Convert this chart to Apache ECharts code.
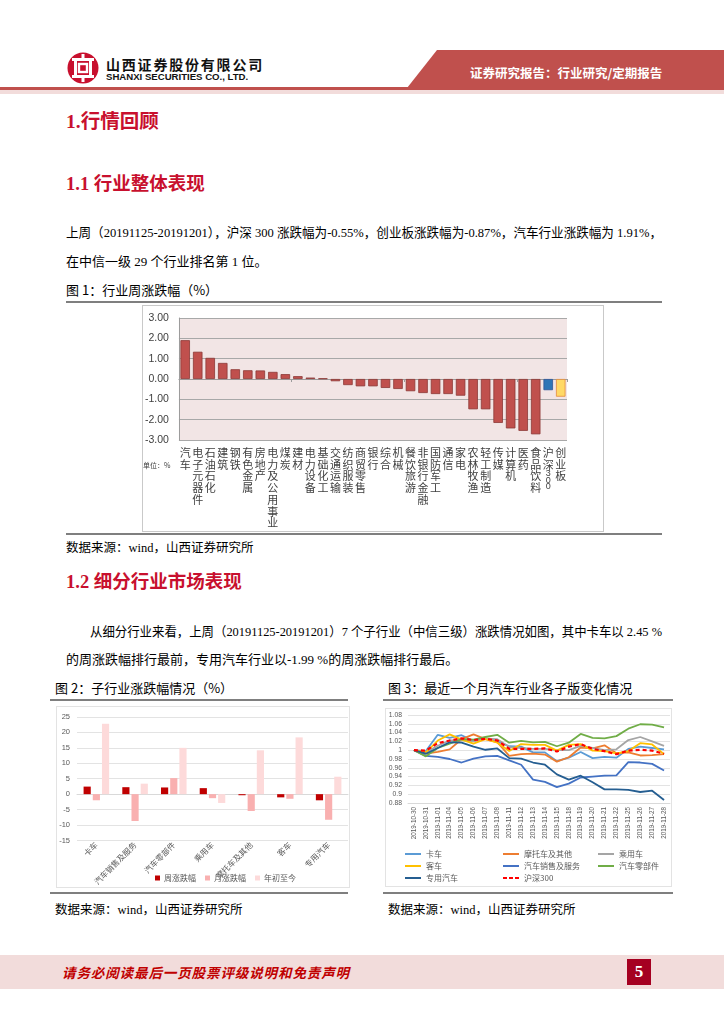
<!DOCTYPE html>
<html><head><meta charset="utf-8">
<script src="https://cdn.jsdelivr.net/npm/echarts@6/dist/echarts.min.js"></script>
<style>
html,body{margin:0;padding:0;background:#fff;}
#page{position:relative;width:724px;height:1024px;overflow:hidden;background:#fff;font-family:"Liberation Serif","Noto Sans CJK SC",serif;color:#000;}
.abs{position:absolute;white-space:nowrap;}
.h1{font-family:"Liberation Serif","Noto Sans CJK SC";font-weight:bold;color:#C8102E;}
.p{font-size:13px;line-height:20px;}
.cap{font-family:"Noto Sans CJK SC";font-size:13px;line-height:18px;}
.src{font-family:"Liberation Serif","Noto Sans CJK SC";font-size:12.5px;line-height:18px;}
.rule{position:absolute;height:2px;background:#7F7F7F;}
.frame{position:absolute;box-sizing:border-box;border:1px solid #C9C9C9;}
</style></head>
<body><div id="page">
<!-- header -->
<svg class="abs" style="left:67px;top:52px" width="32" height="32" viewBox="0 0 32 32">
 <circle cx="16" cy="16" r="15.5" fill="#C8102E"/>
 <rect x="5" y="6" width="22" height="3" fill="#fff"/>
 <rect x="5" y="23" width="22" height="3" fill="#fff"/>
 <rect x="7" y="9" width="3" height="14" fill="#fff"/>
 <rect x="22" y="9" width="3" height="14" fill="#fff"/>
 <rect x="12" y="12" width="8" height="8" fill="none" stroke="#fff" stroke-width="2.4"/>
 <rect x="14.5" y="2" width="3" height="4" fill="#fff"/>
 <rect x="14.5" y="26" width="3" height="4" fill="#fff"/>
</svg>
<div class="abs" style="left:106px;top:55px;font-family:'Noto Sans CJK SC';font-weight:bold;font-size:14px;line-height:18px;letter-spacing:1.8px;color:#111;">山西证券股份有限公司</div>
<div class="abs" style="left:106px;top:71px;font-family:'Liberation Sans';font-weight:bold;font-size:9.6px;line-height:12px;color:#111;">SHANXI SECURITIES CO., LTD.</div>
<div class="abs" style="left:0;top:50px;width:724px;height:38px;background:#C0504D;clip-path:polygon(437px 0,724px 0,724px 38px,407px 38px);"></div>
<div class="abs" style="left:0;top:87px;width:724px;height:3px;background:#C0504D;"></div>
<div class="abs" style="left:0;top:90px;width:724px;height:4px;background:#F2DCDB;"></div>
<div class="abs" style="left:470px;top:64px;font-family:'Noto Sans CJK SC';font-weight:bold;font-size:12.5px;line-height:18px;color:#fff;">证券研究报告：行业研究/定期报告</div>

<div class="abs h1" style="left:66px;top:109px;font-size:19.5px;line-height:26px;">1.行情回顾</div>
<div class="abs h1" style="left:66px;top:171px;font-size:18.5px;line-height:26px;">1.1 行业整体表现</div>
<div class="abs p" data-w="596" style="left:66px;top:223px;">上周（20191125-20191201），沪深 300 涨跌幅为-0.55%，创业板涨跌幅为-0.87%，汽车行业涨跌幅为 1.91%，</div>
<div class="abs p" style="left:66px;top:252px;">在中信一级 29 个行业排名第 1 位。</div>
<div class="abs cap" style="left:66px;top:281px;">图 1：行业周涨跌幅（%）</div>
<div class="rule" style="left:66px;top:301px;width:596px;"></div>
<div class="frame" style="left:142px;top:305px;width:462px;height:227px;"></div>
<div id="c1" class="abs" style="left:142px;top:305px;width:462px;height:227px;"></div>
<div class="rule" style="left:66px;top:533px;width:596px;"></div>
<div class="abs src" style="left:66px;top:539px;">数据来源：wind，山西证券研究所</div>

<div class="abs h1" style="left:66px;top:569px;font-size:18.5px;line-height:26px;">1.2 细分行业市场表现</div>
<div class="abs p" data-w="572" style="left:90px;top:622px;">从细分行业来看，上周（20191125-20191201）7 个子行业（中信三级）涨跌情况如图，其中卡车以 2.45 %</div>
<div class="abs p" style="left:66px;top:650px;">的周涨跌幅排行最前，专用汽车行业以-1.99 %的周涨跌幅排行最后。</div>

<div class="abs cap" style="left:55px;top:679px;">图 2：子行业涨跌幅情况（%）</div>
<div class="abs cap" style="left:388px;top:679px;">图 3：最近一个月汽车行业各子版变化情况</div>
<div class="rule" style="left:50px;top:699px;width:298px;"></div>
<div class="rule" style="left:383px;top:699px;width:290px;"></div>
<div class="frame" style="left:56px;top:706px;width:294px;height:182px;border-color:#E3E3E3;"></div>
<div id="c2" class="abs" style="left:56px;top:706px;width:294px;height:182px;"></div>
<div class="frame" style="left:385px;top:708px;width:287px;height:179px;border-color:#E3E3E3;"></div>
<div id="c3" class="abs" style="left:385px;top:708px;width:287px;height:179px;"></div>
<div class="rule" style="left:50px;top:892px;width:298px;"></div>
<div class="rule" style="left:383px;top:892px;width:290px;"></div>
<div class="abs src" style="left:55px;top:901px;">数据来源：wind，山西证券研究所</div>
<div class="abs src" style="left:388px;top:901px;">数据来源：wind，山西证券研究所</div>

<!-- footer -->
<div class="abs" style="left:0;top:955px;width:724px;height:34px;background:#F2DCDB;"></div>
<div class="abs" style="left:62px;top:962px;font-family:'Noto Sans CJK SC';font-weight:bold;font-style:italic;font-size:13.5px;line-height:20px;letter-spacing:0.9px;color:#C00000;">请务必阅读最后一页股票评级说明和免责声明</div>
<div class="abs" style="left:627px;top:959px;width:24px;height:26px;background:#A50021;color:#fff;font-family:'Liberation Serif';font-weight:bold;font-size:17px;line-height:26px;text-align:center;">5</div>
</div>
<script>
// fit justified single lines to their target width
document.querySelectorAll('[data-w]').forEach(el => {
  const target = +el.dataset.w;
  const w = el.getBoundingClientRect().width;
  const n = el.textContent.length;
  if (w > target) {
    el.style.transformOrigin = '0 50%';
    el.style.transform = 'scaleX(' + (target / w) + ')';
  } else if (n > 1) {
    el.style.letterSpacing = ((target - w) / (n - 1)) + 'px';
  }
});

// ---------- Figure 1 data ----------
const industries = ['汽车','电子元器件','石油石化','建筑','钢铁','有色金属','房地产','电力及公用事业','煤炭','建材','电力设备','基础化工','交通运输','纺织服装','商贸零售','银行','综合','机械','餐饮旅游','非银行金融','国防军工','通信','家电','农林牧渔','轻工制造','传媒','计算机','医药','食品饮料','沪深300','创业板'];
const weeklyChange = [1.91,1.34,1.04,0.79,0.48,0.43,0.42,0.35,0.24,0.14,0.07,0.03,-0.11,-0.30,-0.36,-0.36,-0.44,-0.49,-0.60,-0.69,-0.74,-0.74,-0.82,-1.49,-1.49,-2.16,-2.43,-2.55,-2.72,-0.55,-0.87];
const fig1Ticks = [-3,-2,-1,0,1,2,3];

// ---------- Figure 2 data ----------
const subIndustries = ['卡车','汽车销售及服务','汽车零部件','乘用车','摩托车及其他','客车','专用汽车'];
const subWeekly = [2.45,2.26,2.17,1.95,-0.35,-1.04,-1.99];
const subMonthly = [-1.98,-8.70,5.20,-1.30,-5.45,-1.50,-8.30];
const subYtd = [22.8,3.4,15.0,-2.85,14.2,18.4,5.65];

// ---------- Figure 3 data ----------
const dates = ['2019-10-30','2019-10-31','2019-11-01','2019-11-04','2019-11-05','2019-11-06','2019-11-07','2019-11-08','2019-11-11','2019-11-12','2019-11-13','2019-11-14','2019-11-15','2019-11-18','2019-11-19','2019-11-20','2019-11-21','2019-11-22','2019-11-25','2019-11-26','2019-11-27','2019-11-28'];
const truck     = [1.000,0.998,1.035,1.028,1.034,1.021,1.027,1.020,1.009,1.008,0.995,0.995,0.975,0.983,0.996,0.982,0.985,0.983,1.003,1.008,1.005,1.002];
const moto      = [1.000,0.992,0.996,1.002,1.025,1.036,1.025,1.018,0.987,0.991,0.992,0.990,0.974,0.984,1.006,1.004,1.011,0.993,0.995,0.988,0.989,0.991];
const passenger = [1.000,0.995,1.010,1.022,1.023,1.020,1.026,1.025,1.007,1.005,1.003,1.003,1.000,1.000,1.010,1.005,1.000,1.002,1.023,1.030,1.020,1.010];
const bus       = [1.000,0.995,1.022,1.036,1.024,1.015,1.025,1.017,0.998,1.014,1.012,1.012,0.999,1.012,1.014,0.999,0.998,0.993,0.998,1.016,1.013,0.991];
const sales     = [1.000,0.987,0.985,0.980,0.972,0.981,0.986,0.987,0.977,0.967,0.933,0.928,0.916,0.924,0.938,0.940,0.942,0.943,0.973,0.972,0.969,0.954];
const parts     = [1.000,0.986,1.005,1.015,1.025,1.024,1.030,1.035,1.017,1.021,1.018,1.019,1.009,1.017,1.037,1.028,1.027,1.032,1.049,1.059,1.058,1.052];
const special   = [1.000,0.992,1.005,1.018,1.017,1.008,1.001,1.004,0.982,0.981,0.972,0.967,0.945,0.933,0.942,0.927,0.911,0.911,0.910,0.905,0.908,0.887];
const csi300    = [1.000,0.999,1.016,1.022,1.027,1.023,1.026,1.022,1.003,1.003,1.003,1.004,0.997,1.008,1.014,1.003,0.998,0.991,0.999,1.001,0.999,0.992];

const CJK = "'Noto Sans CJK SC'";

// ---------- Chart 1 ----------
const c1 = echarts.init(document.getElementById('c1'), null, {renderer:'canvas'});
function vertLabel(name){
  const m = name.match(/^(\D*)(\d+)$/);
  if (m) {
    return m[1].split('').join('\n') + '\n' + m[2].split('').map(d => '{d|' + d + '}').join('\n');
  }
  return name.split('').join('\n');
}
function barStyle(i){
  if (industries[i] === '沪深300') return {color:'#2E75B6', borderColor:'#2F5597', borderWidth:0.8};
  if (industries[i] === '创业板') return {color:'#FFD966', borderColor:'#E48A3C', borderWidth:0.8};
  return {color:'#C0504D', borderColor:'#8C3836', borderWidth:0.8};
}
c1.setOption({
  animation:false,
  grid:{left:36,right:37,top:13,bottom:92,show:true,backgroundColor:'#F2E5E5',borderWidth:0},
  xAxis:[{
    type:'category', data:industries, position:'bottom',
    axisLine:{onZero:true,lineStyle:{color:'#9C9C9C',width:1}},
    axisTick:{show:true,length:3,lineStyle:{color:'#9C9C9C'}},
    axisLabel:{show:false}, splitLine:{show:false}
  },{
    type:'category', data:industries, position:'bottom',
    axisLine:{show:false,onZero:false}, axisTick:{show:false},
    axisLabel:{interval:0, margin:7, fontSize:11, lineHeight:11.7, color:'#404040', fontFamily:CJK,
      formatter:vertLabel, rich:{d:{fontSize:9, lineHeight:6.5, color:'#404040', fontFamily:'Liberation Sans'}}}
  }],
  yAxis:{type:'value', min:fig1Ticks[0], max:fig1Ticks[fig1Ticks.length-1], interval:1,
    axisLine:{show:true,lineStyle:{color:'#9C9C9C'}}, axisTick:{show:false},
    splitLine:{lineStyle:{color:'#A8A8A8',width:1}},
    axisLabel:{formatter:v=>v.toFixed(2), fontSize:10.5, color:'#404040', fontFamily:'Liberation Sans', margin:10}},
  series:[{type:'bar', xAxisIndex:0, barCategoryGap:'24%',
    data:weeklyChange.map((v,i)=>({value:v, itemStyle:barStyle(i)}))}],
  graphic:[{type:'text', left:1, top:157, style:{text:'单位：%', fontSize:7, fill:'#404040', fontFamily:CJK}}]
});

// ---------- Chart 2 ----------
const c2 = echarts.init(document.getElementById('c2'));
const smallTxt = {fontSize:7.5, color:'#595959', fontFamily:CJK};
c2.setOption({
  animation:false,
  grid:{left:21,right:2,top:11,bottom:29},
  legend:{left:94, top:163, itemWidth:5, itemHeight:5, itemGap:9, icon:'rect',
    textStyle:{fontSize:8, color:'#595959', fontFamily:CJK, padding:[0,0,0,-1]},
    data:['周涨跌幅','月涨跌幅','年初至今']},
  xAxis:{type:'category', data:subIndustries,
    axisLine:{onZero:true,lineStyle:{color:'#D9D9D9'}}, axisTick:{show:false},
    axisLabel:Object.assign({interval:0, rotate:45, margin:3}, smallTxt, {fontSize:8})},
  yAxis:{type:'value', min:-15, max:25, interval:5,
    axisLine:{show:false}, axisTick:{show:false},
    splitLine:{lineStyle:{color:'#E3E3E3'}},
    axisLabel:Object.assign({margin:7}, smallTxt, {fontFamily:'Liberation Sans'})},
  series:[
    {name:'周涨跌幅', type:'bar', data:subWeekly, itemStyle:{color:'#C00000'}, barGap:'28%', barCategoryGap:'34%'},
    {name:'月涨跌幅', type:'bar', data:subMonthly, itemStyle:{color:'#F9B0B0'}},
    {name:'年初至今', type:'bar', data:subYtd, itemStyle:{color:'#FDDADA'}}
  ]
});

// ---------- Chart 3 ----------
const c3 = echarts.init(document.getElementById('c3'));
const lineDefs = [
  ['卡车', truck, '#5B9BD5'],
  ['摩托车及其他', moto, '#ED7D31'],
  ['乘用车', passenger, '#A5A5A5'],
  ['客车', bus, '#FFC000'],
  ['汽车销售及服务', sales, '#4472C4'],
  ['汽车零部件', parts, '#70AD47'],
  ['专用汽车', special, '#255E91'],
  ['沪深300', csi300, '#FF0000']
];
const legendPos = [[15,137],[113,137],[208,137],[15,149],[113,149],[208,149],[15,161],[113,161]];
const solidIcon = 'path://M0,0L16,0L16,2L0,2Z';
const dashIcon = 'path://M0,0L4,0L4,2L0,2Z M6,0L10,0L10,2L6,2Z M12,0L16,0L16,2L12,2Z';
c3.setOption({
  animation:false,
  grid:{left:23,right:2,top:7,bottom:84},
  legend: lineDefs.map((d,i)=>({left:legendPos[i][0], top:legendPos[i][1], itemWidth:16, itemHeight:2.2, itemGap:4,
    icon: i===7 ? dashIcon : solidIcon,
    textStyle:{fontSize:8, color:'#595959', fontFamily:CJK}, data:[d[0]]})),
  xAxis:{type:'category', data:dates, boundaryGap:true,
    axisLine:{lineStyle:{color:'#D9D9D9'}}, axisTick:{show:false},
    axisLabel:{interval:0, rotate:90, margin:4, fontSize:6.3, color:'#595959', fontFamily:'Liberation Sans'}},
  yAxis:{type:'value', min:0.88, max:1.08, interval:0.02,
    axisLine:{show:false}, axisTick:{show:false},
    splitLine:{lineStyle:{color:'#E3E3E3'}},
    axisLabel:{fontSize:6.8, color:'#595959', fontFamily:'Liberation Sans', margin:6,
      formatter:v=>String(Math.round(v*100)/100)}},
  series: lineDefs.map((d,i)=>({name:d[0], type:'line', data:d[1], symbol:'none', smooth:false,
    z: i===7 ? 5 : 2,
    lineStyle:{color:d[2], width: i===7 ? 2.2 : 1.8, type: i===7 ? [4,3] : 'solid'},
    itemStyle:{color:d[2]}}))
});
</script>
</body></html>
